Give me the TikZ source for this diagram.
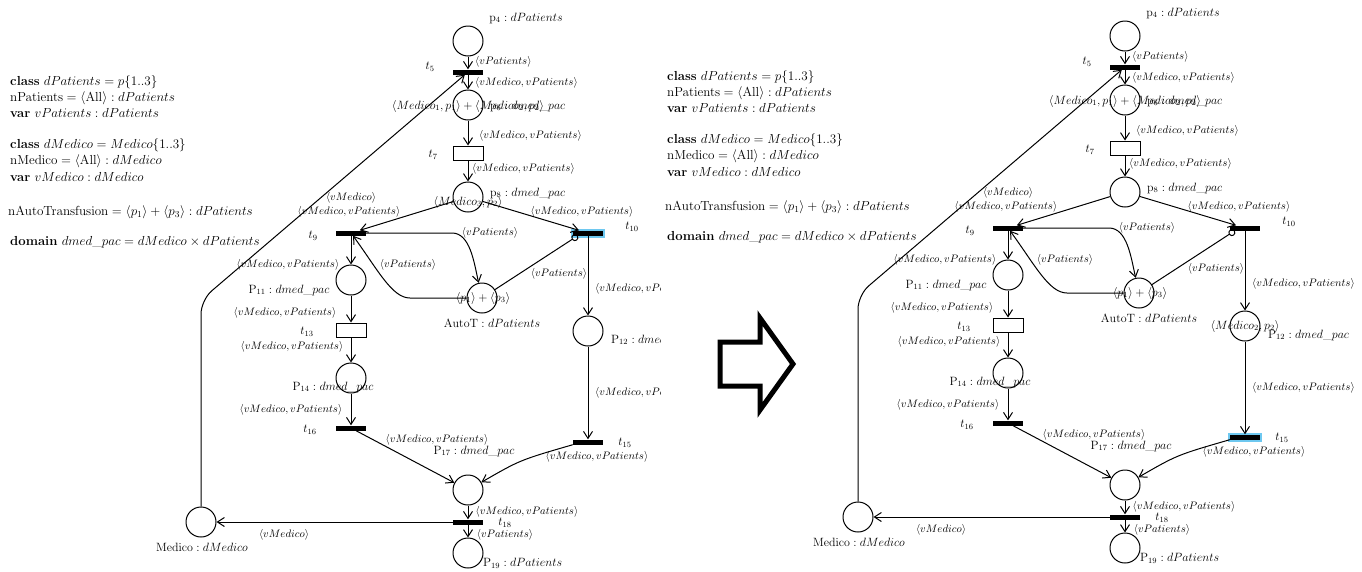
\RequirePackage{fix-cm}
\documentclass[tikz,border=0pt]{standalone}
\usepackage{amsmath}
\usepackage{tikz}
\usetikzlibrary{arrows.meta}

\tikzset{
  place/.style={circle, draw, line width=1pt, minimum size=30pt, inner sep=0pt},
  bar/.style={rectangle, fill=black, minimum width=30pt, minimum height=5pt, inner sep=0pt},
  slot/.style={rectangle, draw, line width=1pt, fill=white, minimum width=30pt, minimum height=14pt, inner sep=0pt},
  glow/.style={preaction={draw={rgb,255:red,110;green,200;blue,240}, line width=4pt}},
  arc/.style={line width=1pt, -{Straight Barb[length=7pt,width=9pt]}},
  inhib/.style={line width=1pt, -{Circle[open,length=7pt]}},
  arclabel/.style={font=\fontsize{10.8}{13}\selectfont, inner sep=0pt},
  placelabel/.style={font=\fontsize{12}{14}\selectfont, inner sep=0pt},
  decl/.style={font=\fontsize{13.1}{16}\selectfont, anchor=west, inner sep=0pt}
}

% #1 marking of p8, #2 marking of p12
\newcommand{\petrinet}[2]{%
\node[decl] (d1) at (10,82) {\textbf{class} $dPatients = p\{1..3\}$};
\node[decl] (d2) at (10,98) {$\mathrm{nPatients} = \langle\mathrm{All}\rangle : dPatients$};
\node[decl] (d3) at (10,113) {\textbf{var} $vPatients : dPatients$};
\node[decl] (d4) at (10,145) {\textbf{class} $dMedico = Medico\{1..3\}$};
\node[decl] (d5) at (10,161) {$\mathrm{nMedico} = \langle\mathrm{All}\rangle : dMedico$};
\node[decl] (d6) at (10,177) {\textbf{var} $vMedico : dMedico$};
\node[decl] (d7) at (8,212) {$\mathrm{nAutoTransfusion} = \langle p_1\rangle + \langle p_3\rangle : dPatients$};
\node[decl] (d8) at (10,242) {\textbf{domain} $dmed\_pac = dMedico \times dPatients$};
\node[place] (p4) at (468,41) {};
\node[bar] (t5) at (468,72) {};
\node[place] (p6) at (468,105) {};
\node[slot] (t7) at (468,153) {};
\node[place] (p8) at (468,197) {};
\node[bar] (t9) at (351,233) {};
\node[bar,tenglow] (t10) at (588,233) {};
\node[place] (autoT) at (482,298) {};
\node[place] (p11) at (351,280) {};
\node[slot] (t13) at (351,330) {};
\node[place] (p14) at (351,378) {};
\node[bar] (t16) at (351,428) {};
\node[place] (p12) at (588,331) {};
\node[bar,fifteenglow] (t15) at (588,442) {};
\node[place] (p17) at (468,490) {};
\node[bar] (t18) at (468,522) {};
\node[place] (p19) at (468,553) {};
\node[place] (medico) at (201,522) {};
\coordinate (bend) at (201,300);
\draw[arc] (p4) -- (t5);
\draw[arc] (t5) -- (p6);
\draw[arc] (p6) -- (t7);
\draw[arc] (t7) -- (p8);
\draw[arc] (p8) -- (t9);
\draw[arc] (p8) -- (t10);
\draw[arc] (t9) -- (p11);
\draw[arc] (p11) -- (t13);
\draw[arc] (t13) -- (p14);
\draw[arc] (p14) -- (t16);
\draw[arc] (t16) -- (p17);
\draw[arc] (t10) -- (p12);
\draw[arc] (p12) -- (t15);
\draw[arc] (t15.south west) .. controls (520,460) .. (p17);
\draw[arc] (p17) -- (t18);
\draw[arc] (t18) -- (p19);
\draw[arc] (t18) -- (medico);
\draw[arc, rounded corners=14pt] (medico) -- (bend) -- (t5);
\draw[arc] (t9.east) -- (452,233) .. controls (470,233) and (474,262) .. (autoT);
\draw[arc] (autoT.west) -- (410,298) .. controls (392,298) and (378,270) .. (t9);
\draw[inhib] (autoT) -- ([xshift=5pt]t10.south west);
\node[placelabel] (m6) at (468,106) {$\langle Medico_1, p_1\rangle + \langle Medico_2, p_2\rangle$};
\node[placelabel] (m8) at (468,202) {#1};
\node[placelabel] (m12) at (588,331) {#2};
\node[placelabel] (mauto) at (483,298) {$\langle p_1\rangle + \langle p_3\rangle$};
\node[placelabel] (p4l) at (526,18) {$\mathrm{p}_4 : dPatients$};
\node[placelabel, anchor=west] (p6l) at (490,106) {$\mathrm{p}_6 : dmed\_pac$};
\node[placelabel, anchor=west] (p8l) at (490,193) {$\mathrm{p}_8 : dmed\_pac$};
\node[placelabel] (autol) at (492,323) {$\mathrm{AutoT} : dPatients$};
\node[placelabel] (p11l) at (289,290) {$\mathrm{P}_{11} : dmed\_pac$};
\node[placelabel, anchor=west] (p12l) at (611,340) {$\mathrm{P}_{12} : dmed\_pac$};
\node[placelabel] (p14l) at (333,387) {$\mathrm{P}_{14} : dmed\_pac$};
\node[placelabel] (p17l) at (474,451) {$\mathrm{P}_{17} : dmed\_pac$};
\node[placelabel, anchor=west] (p19l) at (483,563) {$\mathrm{P}_{19} : dPatients$};
\node[placelabel] (medl) at (202,547) {$\mathrm{Medico} : dMedico$};
\node[placelabel] (t5l) at (430,67) {$t_5$};
\node[placelabel] (t7l) at (433,155) {$t_7$};
\node[placelabel] (t9l) at (313,236) {$t_9$};
\node[placelabel] (t10l) at (632,227) {$t_{10}$};
\node[placelabel] (t13l) at (307,332) {$t_{13}$};
\node[placelabel] (t15l) at (625,443) {$t_{15}$};
\node[placelabel] (t16l) at (310,430) {$t_{16}$};
\node[placelabel] (t18l) at (505,523) {$t_{18}$};
\node[arclabel, anchor=west] (a1) at (475,62) {$\langle vPatients\rangle$};
\node[arclabel, anchor=west] (a2) at (475,83) {$\langle vMedico, vPatients\rangle$};
\node[arclabel, anchor=west] (a3) at (479,136) {$\langle vMedico, vPatients\rangle$};
\node[arclabel, anchor=west] (a4) at (472,169) {$\langle vMedico, vPatients\rangle$};
\node[arclabel] (a5) at (351,198) {$\langle vMedico\rangle$};
\node[arclabel] (a6) at (349,212) {$\langle vMedico, vPatients\rangle$};
\node[arclabel] (a7) at (582,212) {$\langle vMedico, vPatients\rangle$};
\node[arclabel] (a8) at (490,233) {$\langle vPatients\rangle$};
\node[arclabel] (a9) at (408,265) {$\langle vPatients\rangle$};
\node[arclabel] (a10) at (559,274) {$\langle vPatients\rangle$};
\node[arclabel] (a11) at (288,265) {$\langle vMedico, vPatients\rangle$};
\node[arclabel] (a12) at (285,313) {$\langle vMedico, vPatients\rangle$};
\node[arclabel] (a13) at (292,347) {$\langle vMedico, vPatients\rangle$};
\node[arclabel] (a14) at (291,410) {$\langle vMedico, vPatients\rangle$};
\node[arclabel, anchor=west] (a15) at (595,289) {$\langle vMedico, vPatients\rangle$};
\node[arclabel, anchor=west] (a16) at (595,393) {$\langle vMedico, vPatients\rangle$};
\node[arclabel] (a17) at (437,440) {$\langle vMedico, vPatients\rangle$};
\node[arclabel] (a18) at (597,457) {$\langle vMedico, vPatients\rangle$};
\node[arclabel] (a19) at (527,512) {$\langle vMedico, vPatients\rangle$};
\node[arclabel] (a20) at (505,535) {$\langle vPatients\rangle$};
\node[arclabel] (a21) at (284,535) {$\langle vMedico\rangle$};
}

\begin{document}
\begin{tikzpicture}[x=1pt, y=-1pt]
\useasboundingbox (0,0) rectangle (1362,571);
\begin{scope}[name prefix=a-, tenglow/.style={glow}, fifteenglow/.style={}]
\clip (0,0) rectangle (660,571);
\petrinet{$\langle Medico_3, p_2\rangle$}{}
\end{scope}
\draw[line width=5pt, line join=miter] (720,342) -- (760,342) -- (760,318) -- (793,364)
  -- (760,410) -- (760,386) -- (720,386) -- cycle;
\begin{scope}[shift={(657,-5)}, name prefix=b-, tenglow/.style={}, fifteenglow/.style={glow}]
\petrinet{}{$\langle Medico_2, p_2\rangle$}
\end{scope}
\end{tikzpicture}
\end{document}
